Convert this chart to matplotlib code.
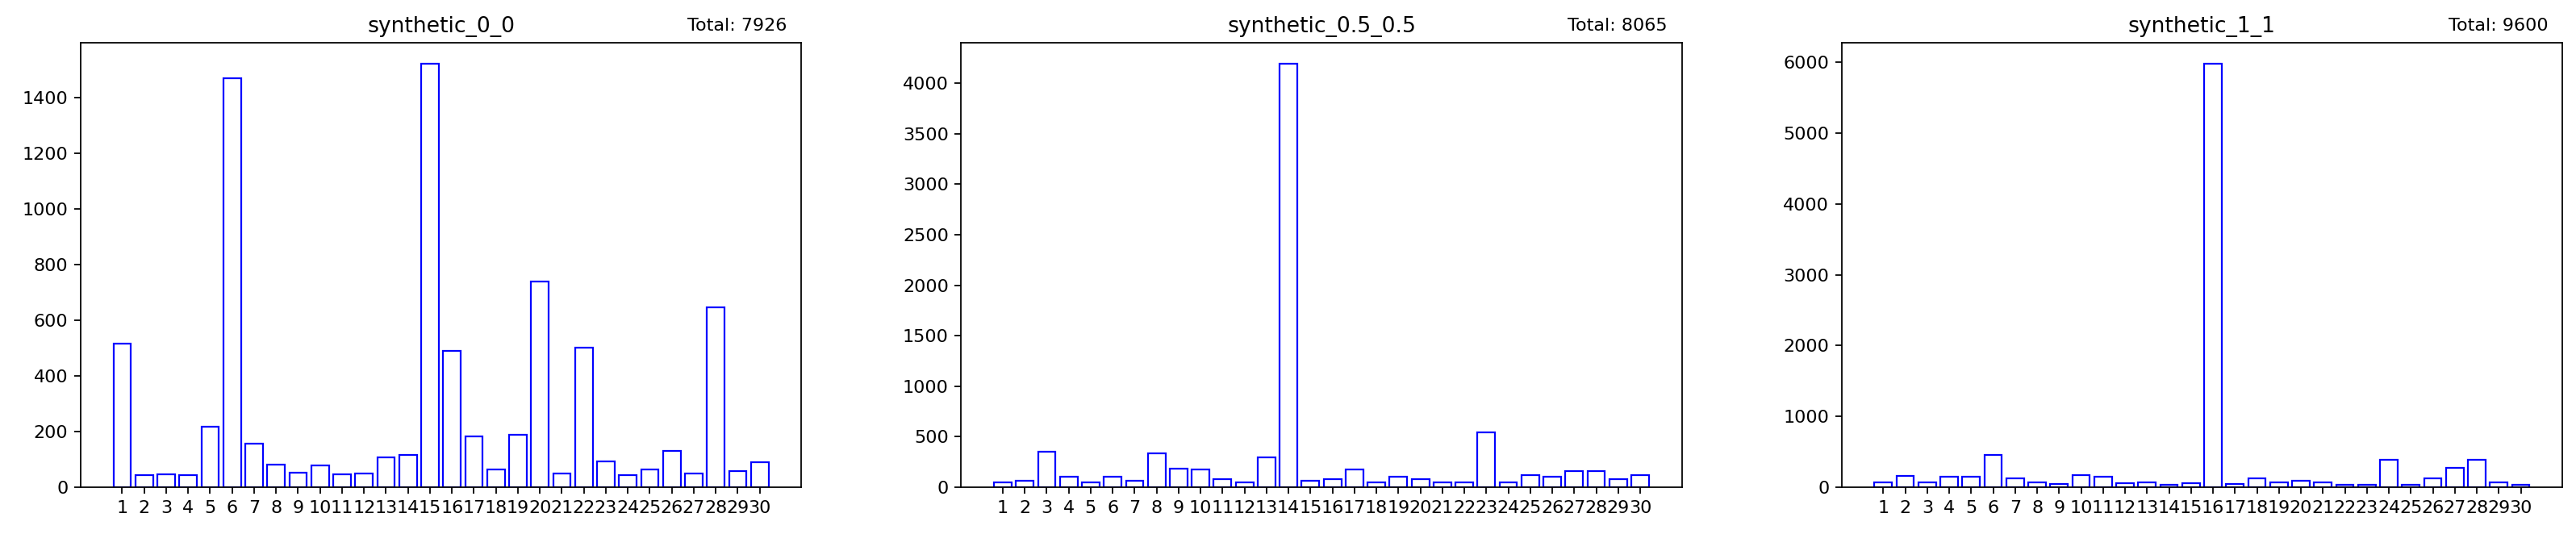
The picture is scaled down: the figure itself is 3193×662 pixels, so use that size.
import matplotlib
matplotlib.use('Agg')
import matplotlib.pyplot as plt

# bins 1..30
bins = list(range(1, 31))

titles = ['synthetic_0_0', 'synthetic_0.5_0.5', 'synthetic_1_1']
totals = [7926, 8065, 9600]

counts_0_0 = [517, 43, 45, 43, 216, 1470, 156, 81, 52, 77,
              46, 48, 106, 115, 1520, 490, 183, 65, 189, 740,
              50, 500, 92, 43, 65, 131, 50, 645, 58, 90]

counts_05_05 = [45, 63, 354, 103, 45, 103, 63, 333, 186, 178,
                81, 45, 295, 4191, 63, 81, 178, 45, 103, 81,
                45, 45, 546, 45, 121, 103, 161, 161, 81, 121]

counts_1_1 = [68, 162, 68, 151, 151, 457, 128, 68, 45, 174,
              151, 53, 68, 36, 60, 5977, 50, 121, 68, 91,
              68, 36, 36, 385, 36, 121, 275, 392, 68, 36]

all_counts = [counts_0_0, counts_05_05, counts_1_1]

fig, axes = plt.subplots(1, 3, figsize=(3193 / 160, 662 / 160), dpi=160)
fig.subplots_adjust(left=100 / 3193, right=3176 / 3193,
                    bottom=1 - 604 / 662, top=1 - 53 / 662, wspace=0.222)

for ax, title, total, counts in zip(axes, titles, totals, all_counts):
    ax.bar(bins, counts, color='white', edgecolor='blue', linewidth=1)
    ax.set_xticks(bins)
    ax.set_title(title)
    ax.text(0.98, 1.02, f'Total: {total}', transform=ax.transAxes,
            ha='right', va='bottom')

fig.savefig('out.png', dpi=160)
